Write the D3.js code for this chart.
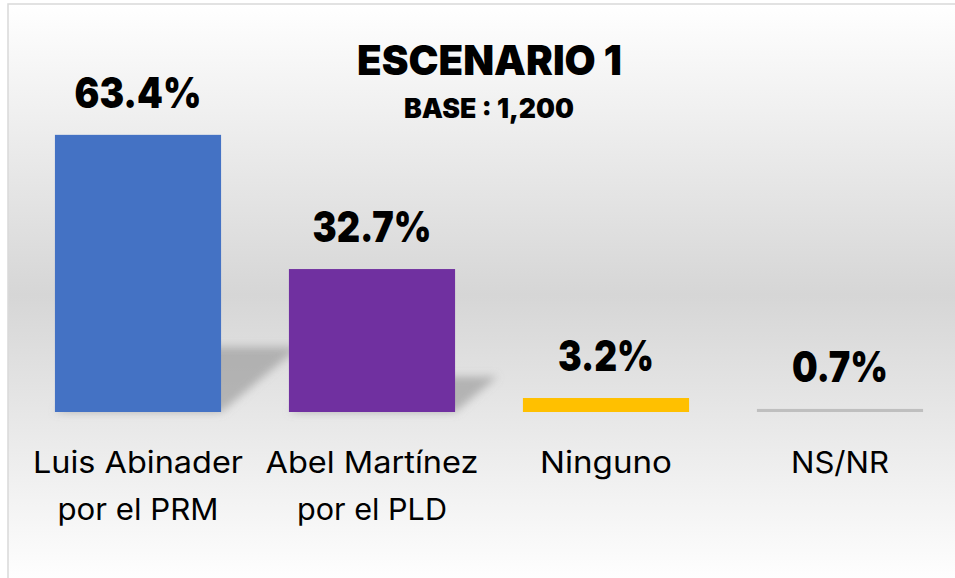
<!DOCTYPE html>
<html>
<head>
<meta charset="utf-8">
<script src="https://cdn.jsdelivr.net/npm/d3@7"></script>
<style>
  html, body { margin: 0; padding: 0; background: #ffffff; }
  svg { display: block; }
</style>
</head>
<body>
<svg id="chart" width="955" height="578"></svg>
<script>
// ---- data ----
const categories = ["Luis Abinader|por el PRM", "Abel Martínez|por el PLD", "Ninguno", "NS/NR"];
const values = [63.4, 32.7, 3.2, 0.7];
const valueLabels = ["63.4%", "32.7%", "3.2%", "0.7%"];
const colors = ["#4472C4", "#7030A0", "#FFC000", "#BFBFBF"];
const title = "ESCENARIO 1";
const subtitle = "BASE : 1,200";

const W = 955, H = 578;
const svg = d3.select("#chart");

// background gradient
const defs = svg.append("defs");
const grad = defs.append("linearGradient").attr("id", "bg").attr("x1", 0).attr("y1", 0).attr("x2", 0).attr("y2", 1);
grad.append("stop").attr("offset", "0%").attr("stop-color", "#ffffff");
grad.append("stop").attr("offset", "50%").attr("stop-color", "#d6d6d6");
grad.append("stop").attr("offset", "100%").attr("stop-color", "#ffffff");

const blur = defs.append("filter").attr("id", "blur").attr("x", "-50%").attr("y", "-50%").attr("width", "200%").attr("height", "200%");
blur.append("feGaussianBlur").attr("stdDeviation", 4);

svg.append("rect").attr("x", 0).attr("y", 0).attr("width", W).attr("height", H).attr("fill", "#ffffff");
svg.append("rect").attr("x", 8).attr("y", 4).attr("width", W + 20).attr("height", 582)
  .attr("fill", "url(#bg)").attr("stroke", "#d9d9d9").attr("stroke-width", 1.5);

// scales
const x = d3.scaleBand().domain(categories).range([21, 957]).paddingInner(0.29).paddingOuter(0.145);
const y = d3.scaleLinear().domain([0, 70]).range([412, 106]);
const base = y(0);

const boldFont = "Inter, 'Open Sans', sans-serif";
const regFont = "Inter, 'Open Sans', sans-serif";

function fitText(sel, w) {
  sel.attr("textLength", w).attr("lengthAdjust", "spacingAndGlyphs");
}

// shadows
const shadowG = svg.append("g").attr("filter", "url(#blur)");
categories.forEach((c, i) => {
  const h = base - y(values[i]);
  if (h < 20) return;
  const sh = 0.22 * h + 4;
  const dx = sh * 1.2;
  const x0 = x(c), x1 = x(c) + x.bandwidth();
  shadowG.append("polygon")
    .attr("points", [[x0, base], [x1, base], [x1 + dx, base - sh], [x0 + dx, base - sh]].map(p => p.join(",")).join(" "))
    .attr("fill", "#8a8a8a").attr("opacity", 0.55);
});

// bars
svg.append("g").selectAll("rect").data(categories).join("rect")
  .attr("x", d => x(d))
  .attr("y", (d, i) => y(values[i]))
  .attr("width", x.bandwidth())
  .attr("height", (d, i) => base - y(values[i]))
  .attr("fill", (d, i) => colors[i]);

// value labels
const valWidths = [127, 119, 96, 96];
svg.append("g").selectAll("text").data(categories).join("text")
  .attr("x", d => x(d) + x.bandwidth() / 2)
  .attr("y", (d, i) => y(values[i]) - 27)
  .attr("text-anchor", "middle")
  .attr("font-family", boldFont)
  .attr("font-weight", 900)
  .attr("font-size", 42)
  .attr("fill", "#000")
  .text((d, i) => valueLabels[i])
  .each(function(d, i) { fitText(d3.select(this), valWidths[i]); });

// category labels
const catWidths = [[210, 161], [213, 150], [132], [98]];
const catG = svg.append("g");
categories.forEach((c, i) => {
  const lines = c.split("|");
  lines.forEach((ln, j) => {
    const t = catG.append("text")
      .attr("x", x(c) + x.bandwidth() / 2)
      .attr("y", 473 + j * 47)
      .attr("text-anchor", "middle")
      .attr("font-family", regFont)
      .attr("font-weight", 400)
      .attr("font-size", 30)
      .attr("fill", "#000")
      .text(ln);
    fitText(t, catWidths[i][j]);
  });
});

// title
const t1 = svg.append("text").attr("x", 489.5).attr("y", 75).attr("text-anchor", "middle")
  .attr("font-family", boldFont).attr("font-weight", 900).attr("font-size", 41).attr("fill", "#000").text(title);
fitText(t1, 265);
const t2 = svg.append("text").attr("x", 489).attr("y", 118).attr("text-anchor", "middle")
  .attr("font-family", boldFont).attr("font-weight", 900).attr("font-size", 27).attr("fill", "#000").text(subtitle);
fitText(t2, 170);
</script>
</body>
</html>
